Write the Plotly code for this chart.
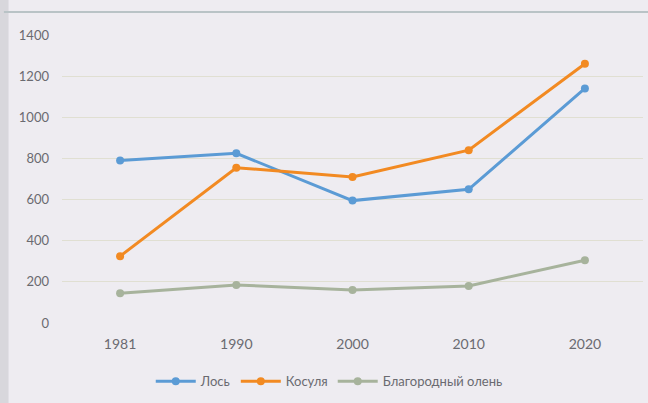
import plotly.graph_objects as go

years = ["1981", "1990", "2000", "2010", "2020"]
elk = [790, 825, 595, 650, 1140]
roe = [325, 755, 710, 840, 1260]
red_deer = [145, 185, 160, 180, 305]
names = ["Лось", "Косуля", "Благородный олень"]
colors = ["#5b9bd5", "#f28a22", "#a7b39c"]
y_ticks = [0, 200, 400, 600, 800, 1000, 1200, 1400]

fig = go.Figure()
for vals, name, col in zip([elk, roe, red_deer], names, colors):
    fig.add_trace(go.Scatter(
        x=years, y=vals, name=name, mode="lines+markers",
        line=dict(color=col, width=3),
        marker=dict(color=col, size=8),
    ))

fig.update_layout(
    width=648, height=403,
    margin=dict(l=62, r=5, t=35, b=80),
    paper_bgcolor="#eeecf1",
    plot_bgcolor="#eeecf1",
    font=dict(family="Lato, Open Sans, sans-serif", size=13, color="#6a6a70"),
    showlegend=True,
    legend=dict(orientation="h", x=0.46, xanchor="center", y=-0.15, yanchor="top",
                font=dict(size=13, color="#6a6a70"), itemwidth=40),
    xaxis=dict(type="category", range=[-0.5, 4.5], showgrid=False, zeroline=False,
               showline=False, ticks="", ticklabelstandoff=11, tickfont=dict(size=14),
               automargin=False),
    yaxis=dict(range=[0, 1400], tickvals=y_ticks, showgrid=True,
               gridcolor="#e0dfd2", gridwidth=1, zeroline=False, showline=False,
               ticks="", ticklabelstandoff=12, tickfont=dict(size=13), automargin=False),
    shapes=[
        dict(type="line", xref="paper", yref="paper", x0=-0.1, x1=1.01, y0=1.08, y1=1.08,
             line=dict(color="#b9c3c6", width=2)),
        dict(type="rect", xref="paper", yref="paper", x0=-0.107, x1=-0.092, y0=-0.3, y1=1.13,
             fillcolor="#d8d7dc", line=dict(width=0), layer="below"),
    ],
)

fig.write_html("out.html", config={"displayModeBar": False},
               post_script="document.body.style.margin='0';")
